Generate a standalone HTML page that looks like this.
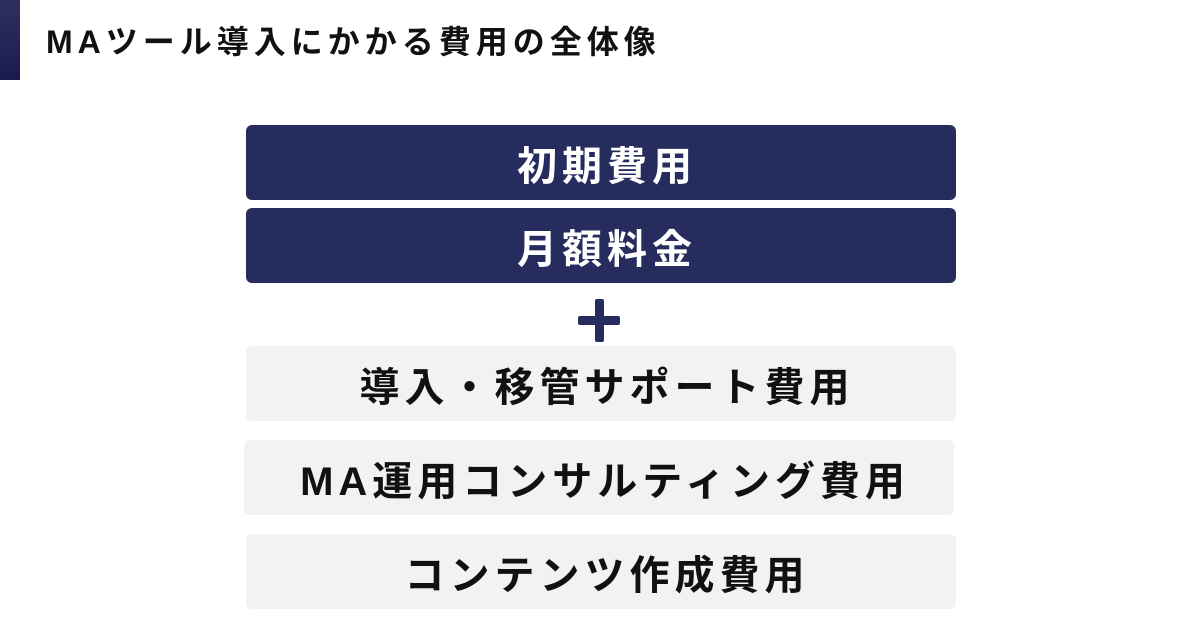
<!DOCTYPE html>
<html><head><meta charset="utf-8"><style>
body{margin:0;width:1200px;height:630px;background:#fff;position:relative;overflow:hidden;font-family:"Liberation Sans","Noto Sans CJK JP",sans-serif;font-weight:bold}
.bar{position:absolute;left:0;top:0;width:20px;height:80px;background:linear-gradient(#30305f,#1a1a4f)}
.t{position:absolute;left:46px;top:22px;font-size:32px;color:#111;line-height:40px;letter-spacing:5px}
.b{position:absolute;width:710px;height:75px;border-radius:6px;display:flex;align-items:center;justify-content:center;font-size:40px;letter-spacing:5px;text-indent:12px;box-sizing:border-box}
.d{background:#272c5f;color:#fff}
.g{background:#f2f2f2;color:#111}
.p1{position:absolute;left:578px;top:316px;width:42px;height:9px;background:#272c5f;border-radius:2px}
.p2{position:absolute;left:595px;top:299px;width:9px;height:43px;background:#272c5f;border-radius:2px}
</style></head><body>
<div class="bar"></div>
<div class="t">MAツール導入にかかる費用の全体像</div>
<div class="b d" style="left:246px;top:125px">初期費用</div>
<div class="b d" style="left:246px;top:208px">月額料金</div>
<div class="p1"></div><div class="p2"></div>
<div class="b g" style="left:246px;top:346px">導入・移管サポート費用</div>
<div class="b g" style="left:244px;top:440px">MA運用コンサルティング費用</div>
<div class="b g" style="left:246px;top:534px">コンテンツ作成費用</div>
</body></html>
